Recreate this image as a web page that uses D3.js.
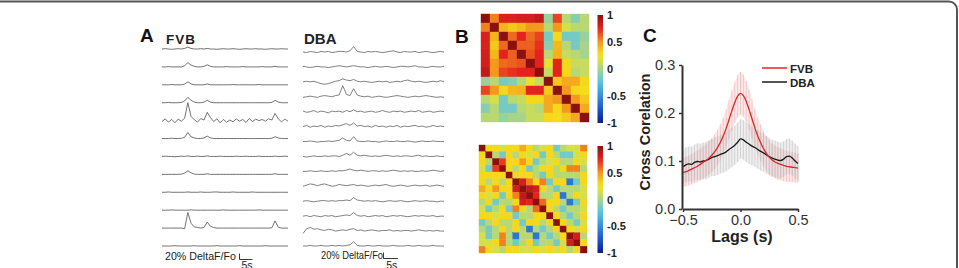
<!DOCTYPE html>
<meta charset="utf-8">
<html>
<head>
<style>
  body { margin: 0; background: #fff; }
  svg { display: block; font-family: Arial, "Liberation Sans", sans-serif; }
</style>
</head>
<body>
<div id="chart"></div>
<script src="https://cdn.jsdelivr.net/npm/d3@7"></script>
<script>
// ---------- data ----------
// calcium traces, DeltaF/F in %, one sample every 1.25 s
var sampleStep = 1.25;
var fvbTraces = [
  [0,1,0,-1,0,1,0,2,6,2,0,0,1,0,2,0,0,-1,0,1,0,0,1,0,-1,0,1,0,0,1,0,0,-1,0,1,0,0,1,0,0],
  [0,0,1,0,0,0,0,4,14,6,2,0,0,2,7,2,0,0,0,0,1,0,0,0,0,1,0,0,0,0,0,1,0,0,0,2,0,0,0,0],
  [0,0,0,1,0,0,0,2,10,3,0,0,0,0,3,0,0,0,0,0,0,0,1,0,0,0,0,0,0,0,1,0,0,0,0,0,0,0,0,0],
  [0,0,1,0,0,0,1,6,18,8,2,0,0,2,8,2,0,0,0,0,0,0,0,0,0,0,0,0,0,0,0,0,0,0,1,8,2,0,0,0],
  [-3,6,-5,4,-7,5,-2,8,60,14,3,-5,7,2,28,10,-3,6,-7,4,-5,2,-4,6,-2,4,-6,7,-3,5,0,4,-2,6,2,24,6,-4,5,-2],
  [0,0,0,1,0,0,1,4,20,6,2,0,0,2,8,2,0,0,0,0,0,0,0,0,0,0,0,0,0,0,0,0,0,0,1,6,2,0,0,0],
  [0,1,0,0,-1,0,1,0,2,0,0,1,0,0,2,0,0,0,1,0,0,0,0,1,0,0,1,0,0,0,1,0,0,0,0,1,0,0,1,0],
  [0,0,0,0,0,0,1,4,12,5,1,0,0,0,2,0,0,0,0,0,0,0,0,0,0,0,0,0,0,0,0,0,0,0,0,2,0,0,0,0],
  [0,0,1,0,0,0,0,0,1,0,0,0,1,0,0,0,1,1,0,0,0,0,1,0,0,0,0,0,1,0,0,0,0,0,0,0,0,0,0,0],
  [0,0,0,1,0,0,0,0,0,1,0,0,0,0,0,0,0,0,0,1,0,0,0,0,0,0,0,0,0,0,1,0,0,0,0,0,0,0,0,0],
  [0,0,0,0,0,0,0,-2,52,16,4,2,0,2,20,6,2,0,0,0,0,0,0,0,0,0,0,0,0,0,0,0,0,0,1,24,3,0,0,0],
  [0,0,0,0,1,0,0,0,0,0,1,0,0,0,0,0,0,1,0,0,0,0,0,0,1,0,0,0,0,0,0,0,1,0,0,0,0,0,0,0]
];
var dbaTraces = [
  [0,-2,2,0,-2,2,0,2,-2,0,2,2,0,4,18,2,0,-2,2,0,2,0,-2,0,2,4,0,-2,2,0,0,2,-2,0,2,0,-2,0,2,0],
  [2,0,-2,0,2,0,0,-2,0,2,4,2,0,2,4,2,0,0,-2,0,2,0,0,2,0,-2,0,2,2,0,2,4,0,0,-2,0,2,0,0,2],
  [0,2,0,2,-2,-6,-8,-6,-2,2,4,10,6,4,8,2,0,2,0,-2,0,2,0,2,-2,0,2,0,4,6,2,0,2,0,-2,0,2,0,4,0],
  [-2,0,2,0,-2,2,4,2,0,4,6,37,8,4,27,6,2,0,2,-2,0,2,0,-2,0,2,4,2,0,-2,0,2,0,2,4,2,0,-2,0,-2],
  [2,-2,0,4,-2,2,0,-4,2,0,2,-2,4,0,6,0,2,-2,0,2,-2,0,4,0,-2,2,0,2,-2,0,2,0,4,-2,0,2,-2,0,2,0],
  [0,4,-2,2,0,4,-2,2,0,4,2,6,10,4,12,2,4,0,2,-2,4,0,2,-2,2,0,4,-2,2,0,2,4,0,2,-2,0,4,0,2,0],
  [0,0,2,0,-2,0,0,2,0,2,4,12,4,2,16,2,0,0,2,0,0,-2,0,2,0,0,2,0,0,2,0,-2,0,2,0,0,2,0,0,0],
  [0,-2,0,2,0,0,2,0,2,2,0,4,10,4,14,4,2,4,2,0,2,0,2,4,2,0,2,0,2,2,0,2,4,0,2,0,0,2,0,0],
  [0,0,2,0,0,2,0,0,2,0,2,2,4,8,4,2,4,2,0,2,2,0,2,0,2,4,2,0,2,0,2,0,0,2,0,2,4,2,0,2],
  [0,4,8,6,2,6,8,4,0,2,6,4,2,4,6,2,4,2,0,2,4,2,4,6,2,0,2,4,2,0,2,4,2,2,4,0,2,4,2,0],
  [0,2,0,-2,0,2,2,0,2,0,2,2,4,2,12,4,2,0,2,0,2,0,-2,0,2,0,0,2,0,-2,0,2,0,0,2,0,0,-2,0,0],
  [0,2,-2,2,0,-2,2,0,2,-2,0,2,4,2,12,2,0,2,-2,0,2,0,2,-2,0,2,0,2,0,-2,0,2,0,2,0,0,2,-2,0,0],
  [-8,8,12,6,8,4,2,6,4,0,2,4,2,6,8,2,4,0,2,4,2,0,2,2,4,0,2,0,2,2,0,2,4,2,0,2,0,2,0,0],
  [0,0,2,0,0,2,0,0,2,0,2,0,2,4,14,2,0,0,2,0,0,2,0,0,0,2,0,0,0,2,0,0,2,0,0,0,2,0,0,0]
];
var scaleBarPct = 20, scaleBarSec = 5;

// correlation matrices
var corrFVB = [
  [1.00,.55,.78,.78,.80,.80,.85,-.05,.68,.05,-.10,.05],
  [.55,1.00,.42,.35,.40,.50,.50,.05,.50,.15,.05,.05],
  [.78,.42,1.00,.60,.75,.60,.68,-.15,.30,-.15,-.15,-.05],
  [.78,.35,.60,1.00,.62,.62,.72,-.10,.40,.05,-.15,.00],
  [.80,.40,.75,.62,1.00,.65,.75,.05,.42,.10,.05,.00],
  [.80,.50,.60,.62,.65,1.00,.75,.20,.75,.30,.10,.10],
  [.85,.50,.68,.72,.75,.75,1.00,.10,.75,.30,.05,.10],
  [-.05,.05,-.15,-.10,.05,.20,.10,1.00,.35,.45,.45,.30],
  [.68,.50,.30,.40,.42,.75,.75,.35,1.00,.50,.30,.28],
  [.05,.15,-.15,.05,.10,.30,.30,.45,.50,1.00,.50,.35],
  [-.10,.05,-.15,-.15,.05,.10,.05,.45,.30,.50,1.00,.45],
  [.05,.05,-.05,.00,.00,.10,.10,.30,.28,.35,.45,1.00]
];
var corrDBA = [
  [1,.3,.3,.15,.3,.3,.45,.3,.05,.15,.3,-.15,.05,.15,.15,.55],
  [.3,1,.05,-.15,.3,.05,.3,.15,.3,-.15,.3,.05,-.15,-.15,.15,.3],
  [.3,.05,1,.7,.3,.3,.5,.3,-.15,.05,.15,.3,.05,.05,.3,.15],
  [.15,-.15,.7,1,.3,.05,.3,-.15,.05,.3,.3,.05,.3,.55,.55,.05],
  [.3,.3,.3,.3,1,.3,.3,.3,.05,-.15,.3,.05,.05,.05,.05,.3],
  [.3,.05,.3,.05,.3,1,.8,.55,.3,.55,-.15,.3,.3,-.6,-.15,.3],
  [.45,.3,.5,.3,.3,.8,1,.85,.8,.3,.05,-.15,.05,.05,.05,.15],
  [.3,.15,.3,-.15,.3,.55,.85,1,.75,.05,.05,.3,-.6,.05,.3,.15],
  [.05,.3,-.15,.05,.05,.3,.8,.75,1,.6,.3,.3,.05,-.6,-.15,.3],
  [.15,-.15,.05,.3,-.15,.55,.3,.05,.6,1,.3,.05,-.15,.05,.05,.15],
  [.3,.3,.15,.3,.3,-.15,.05,.05,.3,.3,1,.3,.05,-.15,.05,.3],
  [-.15,.05,.3,.05,.05,.3,-.15,.3,.3,.05,.3,1,.3,.05,-.15,.15],
  [.05,-.15,.05,.3,.05,.3,.05,-.6,.05,-.15,.05,.3,1,.3,.15,.3],
  [.15,-.15,.05,.55,.05,-.6,.05,.05,-.6,.05,-.15,.05,.3,1,.8,.05],
  [.15,.15,.3,.55,.05,-.15,.05,.3,-.15,.05,.05,-.15,.15,.8,1,.3],
  [.55,.3,.15,.05,.3,.3,.15,.15,.3,.15,.3,.15,.3,.05,.3,1]
];
var colorTicks = [1, 0.5, 0, -0.5, -1];

// cross correlation vs lag
var lags = [-0.5,-0.475,-0.45,-0.425,-0.4,-0.375,-0.35,-0.325,-0.3,-0.275,-0.25,-0.225,-0.2,-0.175,-0.15,-0.125,-0.1,-0.075,-0.05,-0.025,
  0,0.025,0.05,0.075,0.1,0.125,0.15,0.175,0.2,0.225,0.25,0.275,0.3,0.325,0.35,0.375,0.4,0.425,0.45,0.475,0.5];
var xcFVB = [0.076,0.078,0.080,0.083,0.086,0.089,0.093,0.097,0.101,0.106,0.112,0.119,0.128,0.139,0.152,0.168,0.186,0.205,0.222,0.235,
  0.241,0.236,0.224,0.207,0.188,0.169,0.152,0.138,0.126,0.116,0.108,0.102,0.098,0.095,0.093,0.091,0.089,0.088,0.087,0.086,0.085];
var xcFVBsd = [0.030,0.031,0.031,0.032,0.032,0.033,0.033,0.034,0.034,0.035,0.035,0.036,0.037,0.038,0.039,0.040,0.041,0.042,0.043,0.044,
  0.045,0.044,0.043,0.042,0.041,0.040,0.039,0.038,0.037,0.036,0.035,0.035,0.034,0.034,0.033,0.033,0.032,0.032,0.031,0.031,0.030];
var xcDBA = [0.088,0.092,0.094,0.093,0.097,0.099,0.098,0.100,0.101,0.104,0.107,0.109,0.111,0.114,0.116,0.119,0.124,0.128,0.133,0.139,
  0.146,0.144,0.139,0.135,0.131,0.128,0.124,0.120,0.117,0.113,0.109,0.106,0.104,0.102,0.101,0.104,0.109,0.110,0.106,0.100,0.095];
var xcDBAsd = [0.035,0.036,0.036,0.037,0.037,0.038,0.038,0.038,0.039,0.039,0.039,0.040,0.040,0.040,0.040,0.041,0.041,0.041,0.041,0.041,
  0.041,0.041,0.041,0.041,0.040,0.040,0.040,0.040,0.039,0.039,0.039,0.038,0.038,0.038,0.037,0.037,0.037,0.037,0.036,0.036,0.036];
var yTicksC = [0, 0.1, 0.2, 0.3];
var xTicksC = [-0.5, 0, 0.5];

// ---------- drawing ----------
var svg = d3.select("#chart").append("svg").attr("width", 959).attr("height", 268);
svg.append("rect").attr("width", 959).attr("height", 268).attr("fill", "#fff");

// card border
svg.append("path")
  .attr("d", "M-2,1.5 H949 A8,8 0 0 1 957,9.5 V270")
  .attr("fill", "none").attr("stroke", "#555").attr("stroke-width", 2);

// panel letters
function letter(t, x, y) {
  svg.append("text").attr("x", x).attr("y", y).text(t)
    .attr("font-size", 19).attr("font-weight", "bold").attr("fill", "#111");
}
letter("A", 140, 42);
letter("B", 455, 43);
letter("C", 643, 42);

// ----- panel A -----
function tracePanel(traces, x0, x1, yTop, yBot, lineColor) {
  var n = traces[0].length;
  var x = d3.scaleLinear().domain([0, (n - 1) * sampleStep]).range([x0, x1]);
  var rows = d3.scalePoint().domain(d3.range(traces.length)).range([yTop, yBot]);
  var g = svg.append("g");
  traces.forEach(function (tr, k) {
    var y = d3.scaleLinear().domain([0, 100]).range([rows(k), rows(k) - 30]);
    var line = d3.line().x(function (d, i) { return x(i * sampleStep); }).y(function (d) { return y(d); });
    g.append("path").datum(tr).attr("d", line)
      .attr("fill", "none").attr("stroke", lineColor).attr("stroke-width", 0.85)
      .attr("stroke-linejoin", "round");
  });
  return { x: x, y: d3.scaleLinear().domain([0, 100]).range([0, 30]) };
}
var fvb = tracePanel(fvbTraces, 162, 288, 49, 246, "#5a5a5a");
var dba = tracePanel(dbaTraces, 303, 444, 52, 246, "#6a6a6a");

svg.append("text").attr("x", 166).attr("y", 44).text("FVB")
  .attr("font-size", 13.5).attr("font-weight", "bold").attr("letter-spacing", 1).attr("fill", "#222");
svg.append("text").attr("x", 304).attr("y", 44).text("DBA")
  .attr("font-size", 15).attr("font-weight", "bold").attr("fill", "#222");

function scaleBar(p, tx, tlen, bx, by) {
  svg.append("text").attr("x", tx).attr("y", by + 0.5).text("20% DeltaF/Fo")
    .attr("font-size", 10.5).attr("fill", "#222")
    .attr("textLength", tlen).attr("lengthAdjust", "spacingAndGlyphs");
  var w = p.x(scaleBarSec) - p.x(0), h = p.y(scaleBarPct);
  svg.append("path").attr("d", "M" + bx + "," + (by - h) + " V" + by + " H" + (bx + w))
    .attr("fill", "none").attr("stroke", "#222").attr("stroke-width", 0.9);
  svg.append("text").attr("x", bx + w / 2 + 1).attr("y", 269).text("5s")
    .attr("font-size", 10.5).attr("text-anchor", "middle").attr("fill", "#222");
}
scaleBar(fvb, 165, 71, 239.5, 259.5);
scaleBar(dba, 321, 62, 383.5, 258.5);

// ----- panel B -----
var jet = d3.scaleLinear()
  .domain([-1, -0.75, -0.25, 0, 0.25, 0.5, 0.75, 1])
  .range(["#0f1a8a", "#1a56c8", "#55c3ea", "#a8d48a", "#f6e61c", "#f39a1e", "#e42320", "#8b1010"]);

var grad = svg.append("defs").append("linearGradient").attr("id", "jetgrad")
  .attr("x1", 0).attr("y1", 1).attr("x2", 0).attr("y2", 0);
d3.range(0, 1.0001, 0.05).forEach(function (t) {
  grad.append("stop").attr("offset", t).attr("stop-color", jet(-1 + 2 * t));
});

function heatmap(m, x0, y0, size, cbTop, cbBot) {
  var b = d3.scaleBand().domain(d3.range(m.length)).range([0, size]);
  var g = svg.append("g").attr("transform", "translate(" + x0 + "," + y0 + ")");
  m.forEach(function (row, i) {
    g.selectAll(null).data(row).enter().append("rect")
      .attr("x", function (d, j) { return b(j); })
      .attr("y", b(i))
      .attr("width", b.bandwidth()).attr("height", b.bandwidth())
      .attr("fill", function (d) { return jet(d); })
      .attr("stroke", function (d) { return jet(d); }).attr("stroke-width", 0.4);
  });
  var cy = d3.scaleLinear().domain([-1, 1]).range([cbBot, cbTop]);
  svg.append("rect").attr("x", 597.5).attr("y", cbTop).attr("width", 5.5).attr("height", cbBot - cbTop)
    .attr("fill", "url(#jetgrad)");
  svg.selectAll(null).data(colorTicks).enter().append("text")
    .attr("x", 607).attr("y", function (d) { return cy(d) + 4; })
    .text(function (d) { return d; })
    .attr("font-size", 11).attr("font-weight", "bold").attr("fill", "#222");
}
heatmap(corrFVB, 481, 14, 108, 15, 123);
heatmap(corrDBA, 479, 145, 108, 146, 253);

// ----- panel C -----
var xC = d3.scaleLinear().domain([-0.5, 0.5]).range([683, 798]);
var yC = d3.scaleLinear().domain([0, 0.3]).range([209, 65]);

function band(mean, sd, col, op) {
  var g = svg.append("g");
  g.append("path").datum(lags)
    .attr("d", d3.area().x(function (d) { return xC(d); })
      .y0(function (d, i) { return yC(mean[i] - sd[i]); })
      .y1(function (d, i) { return yC(mean[i] + sd[i]); }))
    .attr("fill", col).attr("opacity", op * 0.45);
  g.selectAll(null).data(lags).enter().append("line")
    .attr("x1", function (d) { return xC(d); }).attr("x2", function (d) { return xC(d); })
    .attr("y1", function (d, i) { return yC(mean[i] - sd[i]); })
    .attr("y2", function (d, i) { return yC(mean[i] + sd[i]); })
    .attr("stroke", col).attr("stroke-width", 1).attr("opacity", op);
}
band(xcFVB, xcFVBsd, "#f2a9a9", 0.55);
band(xcDBA, xcDBAsd, "#b8b8b8", 0.5);

function curve(mean, col) {
  svg.append("path").datum(lags)
    .attr("d", d3.line().x(function (d) { return xC(d); }).y(function (d, i) { return yC(mean[i]); }).curve(d3.curveMonotoneX))
    .attr("fill", "none").attr("stroke", col).attr("stroke-width", 1.3);
}
curve(xcDBA, "#1a1a1a");
curve(xcFVB, "#e0262a");

var ax = svg.append("g").attr("transform", "translate(0,209)")
  .call(d3.axisBottom(xC).tickValues(xTicksC).tickFormat(d3.format(".1f")).tickSize(3).tickSizeOuter(0));
var ay = svg.append("g").attr("transform", "translate(682,0)")
  .call(d3.axisLeft(yC).tickValues(yTicksC).tickFormat(d3.format(".1f")).tickSize(3).tickSizeOuter(0));
[ax, ay].forEach(function (a) {
  a.select(".domain").attr("stroke", "#333").attr("stroke-width", 2);
  a.selectAll(".tick line").attr("stroke", "#333").attr("stroke-width", 1.5);
  a.selectAll(".tick text").attr("font-size", 14.5).attr("fill", "#333")
    .attr("font-family", "Arial, 'Liberation Sans', sans-serif");
});
ax.selectAll(".tick text").attr("dy", "0.7em");
ay.selectAll(".tick text").attr("dx", "-0.05em");

svg.append("text").attr("transform", "translate(650,132) rotate(-90)")
  .attr("text-anchor", "middle").text("Cross Corelation")
  .attr("font-size", 14.5).attr("font-weight", "bold").attr("fill", "#222");
svg.append("text").attr("x", 742).attr("y", 242).attr("text-anchor", "middle").text("Lags (s)")
  .attr("font-size", 16).attr("font-weight", "bold").attr("fill", "#222");

// legend
var legend = [{ name: "FVB", col: "#e0262a", y: 68 }, { name: "DBA", col: "#1a1a1a", y: 82 }];
legend.forEach(function (l) {
  svg.append("line").attr("x1", 762).attr("x2", 787).attr("y1", l.y).attr("y2", l.y)
    .attr("stroke", l.col).attr("stroke-width", 1.5);
  svg.append("text").attr("x", 790).attr("y", l.y + 4.5).text(l.name)
    .attr("font-size", 11.5).attr("font-weight", "bold").attr("fill", "#222");
});
</script>
</body>
</html>
